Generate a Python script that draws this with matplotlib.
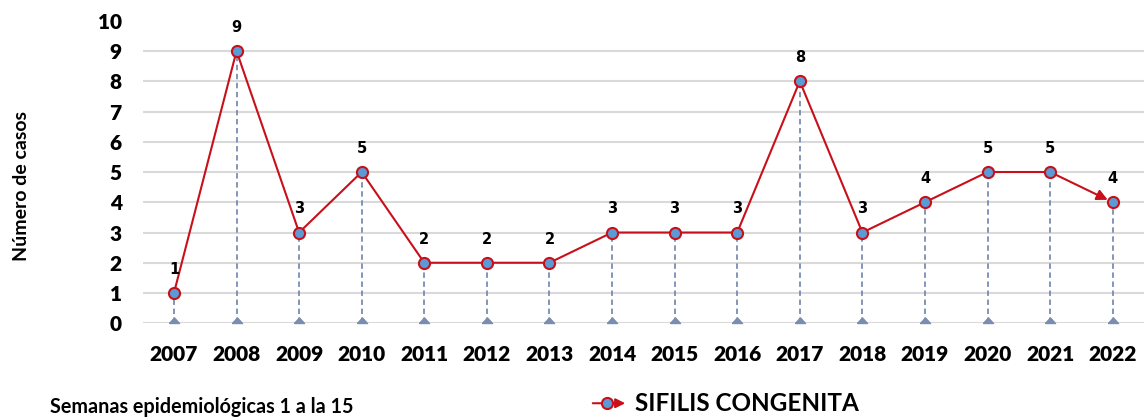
import matplotlib
matplotlib.use("Agg")
import matplotlib.pyplot as plt

years = ["2007", "2008", "2009", "2010", "2011", "2012", "2013", "2014",
         "2015", "2016", "2017", "2018", "2019", "2020", "2021", "2022"]
cases = [1, 9, 3, 5, 2, 2, 2, 3, 3, 3, 8, 3, 4, 5, 5, 4]
y_ticks = list(range(0, 11))
series_name = "SIFILIS CONGENITA"
y_title = "Número de casos"
note = "Semanas epidemiológicas 1 a la 15"

plt.rcParams["font.family"] = ["Lato", "DejaVu Sans"]

RED = "#C8101A"
BLUE = "#5B9BD5"
DROP = "#7A8CB0"
GRID = "#D9D9D9"

fig = plt.figure(figsize=(11.44, 4.17), dpi=100)
ax = fig.add_axes([0.1247, 0.2248, 0.8753, 0.7254])

x = list(range(len(years)))
ax.set_xlim(-0.5, len(years) - 0.5)
ax.set_ylim(0, 10)

# gridlines (none at the top value)
for v in y_ticks[:-1]:
    ax.axhline(v, color=GRID, lw=1.5, zorder=0)

# drop lines with triangle feet sitting on the zero line
ax.vlines(x, 0, cases, colors=DROP, linestyles=(0, (3, 2)), lw=1.3, zorder=1)
foot = [(-1, 0), (1, 0), (0, 1.1), (-1, 0)]
ax.plot(x, [0] * len(x), ls="none", marker=foot, ms=8, color=DROP, zorder=2,
        clip_on=False)

# main line, last segment gets an arrow head
ax.plot(x[:-1], cases[:-1], color=RED, lw=1.5, zorder=3)
ax.annotate("", xy=(x[-1], cases[-1]), xytext=(x[-2], cases[-2]),
            arrowprops=dict(arrowstyle="-|>", color=RED, lw=1.5,
                            mutation_scale=16, shrinkA=0, shrinkB=4),
            zorder=3)
ax.plot(x, cases, ls="none", marker="o", ms=8, mfc=BLUE, mec=RED, mew=1.5, zorder=4)

for xi, v in zip(x, cases):
    ax.annotate(str(v), (xi, v), xytext=(0, 17), textcoords="offset points",
                ha="center", va="center", fontsize=10.5, fontweight="bold",
                family=["DejaVu Sans"])

for s in ax.spines.values():
    s.set_visible(False)
ax.set_yticks(y_ticks)
ax.set_xticks(x)
ax.set_xticklabels(years)
ax.tick_params(length=0, labelsize=15)
ax.tick_params(axis="x", pad=16)
ax.tick_params(axis="y", pad=15)
for lab in ax.get_xticklabels() + ax.get_yticklabels():
    lab.set_fontweight("heavy")

fig.text(0.019, 0.555, y_title, rotation=90, ha="center", va="center",
         fontsize=14, fontweight="bold")
fig.text(0.044, 0.025, note, ha="left", va="center",
         fontsize=14.2, fontweight="bold")

# legend drawn by hand at the bottom
ly = 0.033
fig.add_artist(matplotlib.patches.FancyArrowPatch(
    (590 / 1144, ly), (628 / 1144, ly), transform=fig.transFigure,
    arrowstyle="-|>", color=RED, lw=1.5, mutation_scale=14))
fig.add_artist(matplotlib.lines.Line2D([607 / 1144], [ly], transform=fig.transFigure,
                                       marker="o", ms=8, mfc=BLUE, mec=RED, mew=1.5))
fig.text(635 / 1144, ly, series_name, ha="left", va="center",
         fontsize=17.5, fontweight="bold")

fig.savefig("out.png", dpi=100)
